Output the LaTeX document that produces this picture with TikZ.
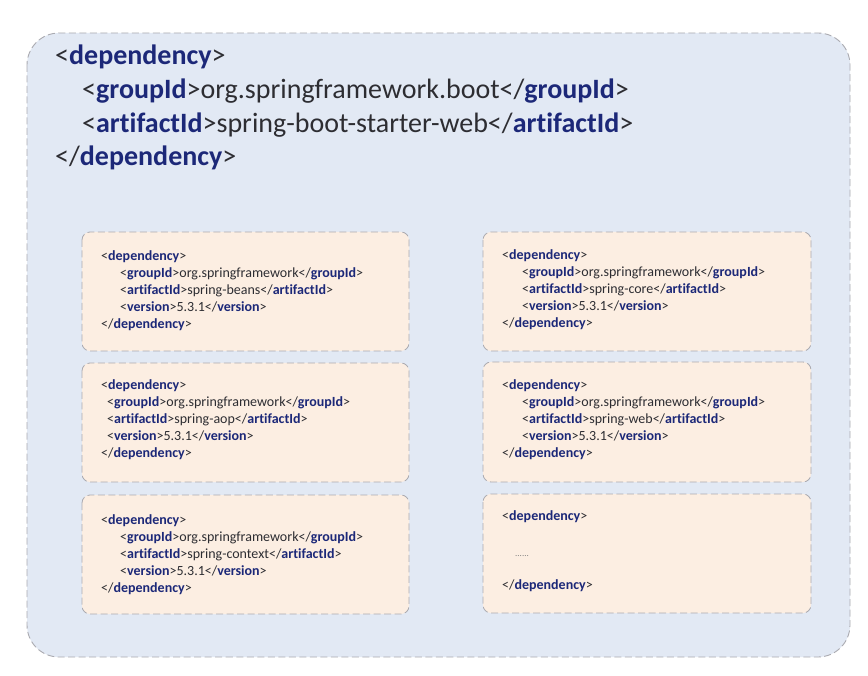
\documentclass[tikz,border=0pt]{standalone}
\usepackage{fontspec}
\setmainfont[Ligatures={NoCommon}]{Carlito}
\definecolor{tagc}{RGB}{28,40,120}
\definecolor{txtc}{RGB}{45,45,50}
\definecolor{outerfill}{RGB}{226,233,244}
\definecolor{innerfill}{RGB}{252,238,226}
\definecolor{bord}{RGB}{170,170,176}
\newcommand{\tg}[1]{{\color{tagc}\bfseries #1}}
\newcommand{\op}[1]{<\tg{#1}>}
\newcommand{\cl}[1]{</\tg{#1}>}
\tikzset{
  hdr/.style={anchor=mid west, inner sep=0pt, text=txtc, font=\fontsize{28}{33}\selectfont},
  sm/.style={anchor=mid west, inner sep=0pt, text=txtc, font=\fontsize{14}{17}\selectfont},
  outerbox/.style={draw=bord, fill=outerfill, dash pattern=on 7pt off 3.5pt, line width=0.9pt, rounded corners=32pt},
  depbox/.style={draw=bord, fill=innerfill, dash pattern=on 7pt off 3.5pt, line width=0.8pt, rounded corners=8pt},
}
\newcommand{\deplines}[5]{%
  \node[sm] (#1a) at (#2,#4) {\op{dependency}};
  \node[sm] (#1b) at (#3,#4+17) {\op{groupId}org.springframework\cl{groupId}};
  \node[sm] (#1c) at (#3,#4+34) {\op{artifactId}#5\cl{artifactId}};
  \node[sm] (#1d) at (#3,#4+51) {\op{version}5.3.1\cl{version}};
  \node[sm] (#1e) at (#2,#4+68) {\cl{dependency}};
}
\begin{document}
\begin{tikzpicture}[x=1pt,y=-1pt]
\useasboundingbox (0,0) rectangle (868,676);
\fill[white] (0,0) rectangle (868,676);
% outer container
\draw[outerbox] (27,33) rectangle (850,657);
\node[hdr] (h1) at (55,62) {\op{dependency}};
\node[hdr] (h2) at (82,96) {\op{groupId}org.springframework.boot\cl{groupId}};
\node[hdr] (h3) at (82,130) {\op{artifactId}spring-boot-starter-web\cl{artifactId}};
\node[hdr] (h4) at (55,163) {\cl{dependency}};
% inner boxes
\draw[depbox] (82,232) rectangle (409,351);
\draw[depbox] (82,363) rectangle (409,482);
\draw[depbox] (82,495) rectangle (409,614);
\draw[depbox] (483,232) rectangle (811,351);
\draw[depbox] (483,362) rectangle (811,482);
\draw[depbox] (483,494) rectangle (811,613);
\deplines{la}{101}{120}{258}{spring-beans}
\deplines{lb}{101}{107}{387}{spring-aop}
\deplines{lc}{101}{120}{522}{spring-context}
\deplines{ra}{502}{522}{257}{spring-core}
\deplines{rb}{502}{522}{387}{spring-web}
\node[sm] (rca) at (502,518) {\op{dependency}};
\node[sm, font=\fontsize{9}{10}\selectfont, text=gray] (rcb) at (515,554) {......};
\node[sm] (rcc) at (502,587) {\cl{dependency}};
\end{tikzpicture}
\end{document}
